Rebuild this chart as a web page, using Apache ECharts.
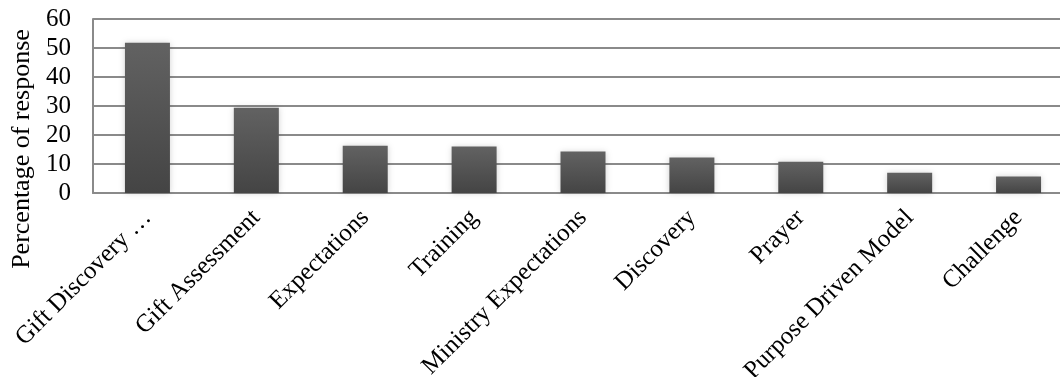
<!DOCTYPE html>
<html>
<head>
<meta charset="utf-8">
<script src="https://cdn.jsdelivr.net/npm/echarts@6/dist/echarts.min.js"></script>
<style>
html,body{margin:0;padding:0;background:#fff;}
#chart{width:1060px;height:377px;}
</style>
</head>
<body>
<div id="chart"></div>
<script>
const categories = ["Gift Discovery \u2026", "Gift Assessment", "Expectations", "Training", "Ministry Expectations", "Discovery", "Prayer", "Purpose Driven Model", "Challenge"];
const values = [51.8, 29.4, 16.3, 16.0, 14.3, 12.2, 10.8, 7.0, 5.7];
const yTicks = [0, 10, 20, 30, 40, 50, 60];
const yAxisTitle = "Percentage of response";

const FONT = '"Liberation Serif", "Times New Roman", serif';
const chart = echarts.init(document.getElementById('chart'), null, {renderer: 'canvas'});
chart.setOption({
  animation: false,
  backgroundColor: '#ffffff',
  grid: {left: 93, top: 19, bottom: 184, right: -13, containLabel: false, outerBoundsMode: 'none'},
  xAxis: {
    type: 'category',
    data: categories,
    axisLine: {show: true, lineStyle: {color: '#8a8a8a', width: 2}},
    axisTick: {show: false},
    axisLabel: {
      interval: 0, rotate: 45, margin: 21,
      padding: [20, 0, 0, 0],
      color: '#000', fontFamily: FONT, fontSize: 25
    },
    splitLine: {show: false}
  },
  yAxis: {
    type: 'value',
    min: yTicks[0], max: yTicks[yTicks.length - 1], interval: 10,
    name: yAxisTitle,
    nameLocation: 'middle',
    nameGap: 57,
    nameTextStyle: {color: '#000', fontFamily: FONT, fontSize: 26, padding: [0, 86, 0, 0]},
    axisLine: {show: true, lineStyle: {color: '#8a8a8a', width: 2}},
    axisTick: {show: false},
    axisLabel: {margin: 22, color: '#000', fontFamily: FONT, fontSize: 25},
    splitLine: {show: true, lineStyle: {color: '#8a8a8a', width: 2}}
  },
  series: [{
    type: 'bar',
    data: values,
    barWidth: 45,
    itemStyle: {
      color: new echarts.graphic.LinearGradient(0, 0, 0, 1, [
        {offset: 0, color: '#626262'},
        {offset: 1, color: '#444444'}
      ]),
      shadowColor: 'rgba(0,0,0,0.18)',
      shadowBlur: 6
    }
  }]
});
</script>
</body>
</html>
